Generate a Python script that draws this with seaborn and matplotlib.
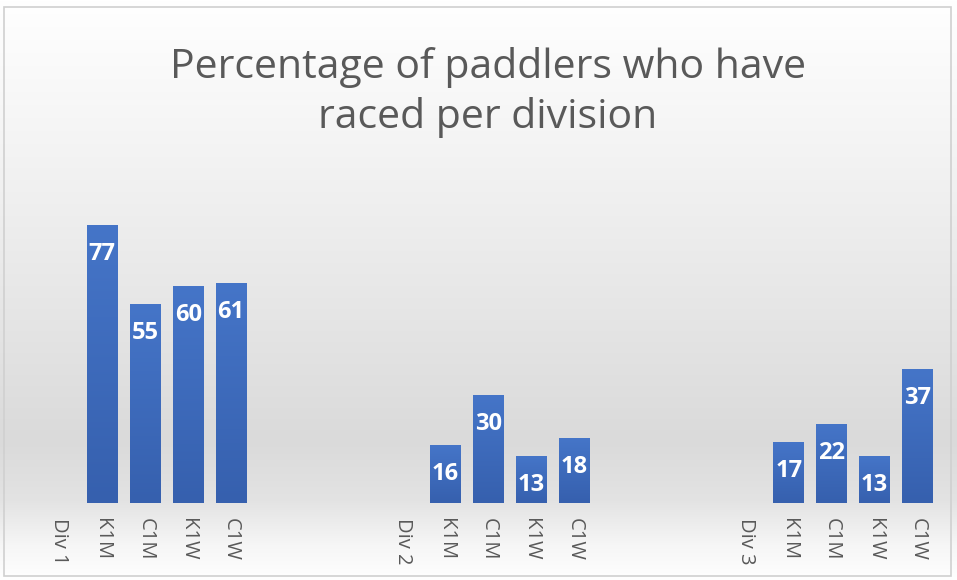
import numpy as np
import pandas as pd
import matplotlib
matplotlib.use("Agg")
import matplotlib.pyplot as plt
import seaborn as sns
from matplotlib.patches import Rectangle

# data
divisions = ["Div 1", "Div 2", "Div 3"]
boats = ["K1M", "C1M", "K1W", "C1W"]
div1_pct = [77, 55, 60, 61]
div2_pct = [16, 30, 13, 18]
div3_pct = [17, 22, 13, 37]
title = "Percentage of paddlers who have\nraced per division"

values = [div1_pct, div2_pct, div3_pct]

# slot order: division header, four boats, three empty spacers
order, tick_labels, rows = [], [], []
for i, (div, vals) in enumerate(zip(divisions, values)):
    order.append(div)
    tick_labels.append(div)
    for boat, v in zip(boats, vals):
        key = f"{div} {boat}"
        order.append(key)
        tick_labels.append(boat)
        rows.append({"slot": key, "pct": v})
    if i < len(divisions) - 1:
        for s in range(3):
            order.append(f"gap{i}{s}")
            tick_labels.append("")
df = pd.DataFrame(rows)

sns.set_theme(style="white")
plt.rcParams["font.family"] = ["Open Sans", "DejaVu Sans"]

W, H = 957, 580
fig = plt.figure(figsize=(W / 100, H / 100), dpi=100)

# background gradient
bg = fig.add_axes([0, 0, 1, 1], zorder=0)
ys = np.arange(H)
stops_y = [0, 150, 300, 440, 500, 545, 580]
stops_c = [1.0, 0.955, 0.905, 0.855, 0.89, 0.965, 1.0]
shade = np.interp(ys, stops_y, stops_c)
img = np.repeat(shade[:, None], 4, axis=1)
bg.imshow(np.dstack([img, img, img]), aspect="auto", extent=[0, 1, 0, 1],
          origin="upper")
bg.set_axis_off()
fig.add_artist(Rectangle((4 / W, 4 / H), 947 / W, 569 / H, transform=fig.transFigure,
                         fill=False, edgecolor="#d0d0d0", lw=1.2, zorder=5))

ax = fig.add_axes([38 / W, 77 / H, 901 / W, 325 / H], zorder=1)
ax.patch.set_alpha(0)
sns.barplot(data=df, x="slot", y="pct", order=order, color="#4472C4",
            width=0.72, saturation=1, linewidth=0, ax=ax)

# vertical shading on the bars
grad = np.linspace(0, 1, 100)[:, None]
cmap = matplotlib.colors.LinearSegmentedColormap.from_list("bar", ["#3660AE", "#4575C8"])
for p in ax.patches:
    x0, y0, w, h = p.get_x(), p.get_y(), p.get_width(), p.get_height()
    if h <= 0:
        continue
    im = ax.imshow(grad, cmap=cmap, aspect="auto", origin="lower",
                   extent=[x0, x0 + w, y0, y0 + h], zorder=2)
    im.set_clip_path(p)
    ax.annotate(f"{h:.0f}", (x0 + w / 2, h), xytext=(0, -29), textcoords="offset pixels",
                ha="center", va="center", color="white", fontsize=17,
                fontweight="bold", zorder=3)
ax.set_ylim(0, 90)
ax.set_xlim(-0.5, len(order) - 0.5)

ax.set_xticks(range(len(order)))
ax.set_xticklabels(tick_labels, rotation=270, fontsize=14.5, color="#595959")
ax.tick_params(axis="x", length=0, pad=11)
ax.set_yticks([])
ax.set_xlabel("")
ax.set_ylabel("")
for s in ax.spines.values():
    s.set_visible(False)

fig.text(0.51, 0.84, title, ha="center", va="center", fontsize=29.5,
         color="#595959", linespacing=1.3, zorder=3)

fig.savefig("out.png", dpi=100)
